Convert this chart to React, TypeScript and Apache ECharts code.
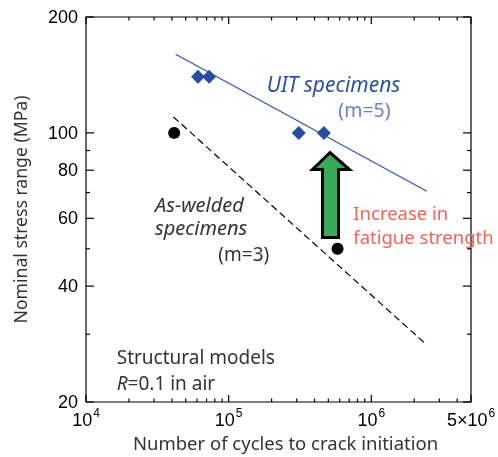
import React, { useEffect, useRef } from "react";
import * as echarts from "echarts";

// ---- data ----
const xTickMajor = [1e4, 1e5, 1e6, 5e6];
const xTickMinor = [2e4, 3e4, 4e4, 5e4, 6e4, 7e4, 8e4, 9e4, 2e5, 3e5, 4e5, 5e5, 6e5, 7e5, 8e5, 9e5, 2e6, 3e6, 4e6];
const yTickMajor = [20, 40, 60, 80, 100, 200];
const yTickMinor = [30, 50, 70, 90];

const asWeldedCycles = [4.15e4, 5.8e5];
const asWeldedStress = [100, 50];
const uitCycles = [6.1e4, 7.3e4, 3.1e5, 4.65e5];
const uitStress = [140, 140, 100, 100];
const uitFitCycles = [4.25e4, 2.45e6];
const uitFitStress = [160, 70.5];
const awFitCycles = [4.1e4, 2.38e6];
const awFitStress = [110, 28.4];

const X_MIN = 1e4;
const X_MAX = 5e6;
const Y_MIN = 20;
const Y_MAX = 200;

const zip = (a: number[], b: number[]) => a.map((v, i) => [v, b[i]]);

const TEXT = "'Noto Sans', 'Open Sans', sans-serif";
const NUM = "'Liberation Sans', Arial, sans-serif";

export default function App() {
  const ref = useRef<HTMLDivElement>(null);
  useEffect(() => {
    if (!ref.current) return;
    const chart = echarts.init(ref.current, undefined, { renderer: "svg" });

    const xTicks = [
      ...xTickMajor.map((v) => [v, Y_MIN, 7]),
      ...xTickMinor.map((v) => [v, Y_MIN, 3.5]),
    ];
    const yTicks = [
      ...yTickMajor.map((v) => [X_MIN, v, 8]),
      ...yTickMinor.map((v) => [X_MIN, v, 4]),
    ];

    const supFmt = (val: number) => {
      const e = Math.floor(Math.log10(val) + 1e-9);
      const m = Math.round(val / Math.pow(10, e));
      return m === 1 ? `{b|10}{s|${e}}` : `{b|${m}×10}{s|${e}}`;
    };

    const option: any = {
      animation: false,
      grid: {
        left: 86,
        top: 17,
        width: 385,
        height: 385,
        show: true,
        borderColor: "#000",
        borderWidth: 1.2,
        containLabel: false,
        outerBoundsMode: "none",
      },
      xAxis: {
        type: "log",
        logBase: 10,
        min: X_MIN,
        max: X_MAX,
        axisLine: { show: false },
        axisTick: { show: false },
        splitLine: { show: false },
        minorTick: { show: false },
        axisLabel: {
          customValues: xTickMajor,
          formatter: supFmt,
          margin: 5,
          rich: {
            b: { fontSize: 18, fontFamily: NUM, color: "#000", lineHeight: 20 },
            s: { fontSize: 12, fontFamily: NUM, color: "#000", padding: [0, 0, 14, 1] },
          },
        },
      },
      yAxis: {
        type: "log",
        logBase: 10,
        min: Y_MIN,
        max: Y_MAX,
        axisLine: { show: false },
        axisTick: { show: false },
        splitLine: { show: false },
        minorTick: { show: false },
        axisLabel: {
          customValues: yTickMajor,
          margin: 8,
          fontSize: 18,
          fontFamily: NUM,
          color: "#000",
        },
        name: "Nominal stress range (MPa)",
        nameLocation: "middle",
        nameGap: 57,
        nameTextStyle: { fontSize: 17.6, fontFamily: TEXT, color: "#333" },
      },
      series: [
        {
          type: "custom",
          clip: false,
          silent: true,
          data: xTicks,
          encode: { x: 0, y: 1 },
          renderItem: (params: any, api: any) => {
            const cs = params.coordSys;
            const px = api.coord([api.value(0), api.value(1)])[0];
            const len = api.value(2);
            const bot = cs.y + cs.height;
            const st = { stroke: "#000", lineWidth: 1.2 };
            return {
              type: "group",
              children: [
                { type: "line", shape: { x1: px, y1: bot, x2: px, y2: bot - len }, style: st },
                { type: "line", shape: { x1: px, y1: cs.y, x2: px, y2: cs.y + len }, style: st },
              ],
            };
          },
        },
        {
          type: "custom",
          clip: false,
          silent: true,
          data: yTicks,
          encode: { x: 0, y: 1 },
          renderItem: (params: any, api: any) => {
            const cs = params.coordSys;
            const py = api.coord([api.value(0), api.value(1)])[1];
            const len = api.value(2);
            const right = cs.x + cs.width;
            const st = { stroke: "#000", lineWidth: 1.2 };
            return {
              type: "group",
              children: [
                { type: "line", shape: { x1: cs.x, y1: py, x2: cs.x + len, y2: py }, style: st },
                { type: "line", shape: { x1: right, y1: py, x2: right - len, y2: py }, style: st },
              ],
            };
          },
        },
        {
          name: "UIT fit",
          type: "line",
          data: zip(uitFitCycles, uitFitStress),
          symbol: "none",
          lineStyle: { color: "#3352b0", width: 1.2 },
          z: 3,
        },
        {
          name: "As-welded fit",
          type: "line",
          data: zip(awFitCycles, awFitStress),
          symbol: "none",
          lineStyle: { color: "#000", width: 1.2, type: [7, 4] },
          z: 3,
        },
        {
          name: "UIT",
          type: "scatter",
          data: zip(uitCycles, uitStress),
          symbol: "diamond",
          symbolSize: 14,
          itemStyle: { color: "#2a4ca2", opacity: 1 },
          z: 5,
        },
        {
          name: "As-welded",
          type: "scatter",
          data: zip(asWeldedCycles, asWeldedStress),
          symbol: "circle",
          symbolSize: 12,
          itemStyle: { color: "#000", opacity: 1 },
          z: 5,
        },
      ],
      graphic: [
        {
          type: "polygon",
          z: 10,
          shape: {
            points: [
              [330, 152.5],
              [312.5, 169.5],
              [322.5, 169.5],
              [322.5, 237.5],
              [338.5, 237.5],
              [338.5, 169.5],
              [349.5, 169.5],
            ],
          },
          style: { fill: "#3aa95a", stroke: "#000", lineWidth: 3, lineJoin: "miter" },
        },
        {
          type: "text",
          x: 285.5,
          y: 442,
          style: {
            text: "Number of cycles to crack initiation",
            fontSize: 18.5,
            fontFamily: TEXT,
            fill: "#333",
            align: "center",
            verticalAlign: "middle",
          },
        },
        { type: "text", x: 266.7, y: 84, style: { text: "UIT specimens", fontSize: 21, fontStyle: "italic", fontFamily: TEXT, fill: "#2b4fa4", verticalAlign: "middle" } },
        { type: "text", x: 338.3, y: 109, style: { text: "(m=5)", fontSize: 19.5, fontFamily: TEXT, fill: "#6b80c6", verticalAlign: "middle" } },
        {
          type: "text",
          x: 155,
          y: 215.5,
          style: {
            text: "As-welded\nspecimens",
            fontSize: 20,
            lineHeight: 23,
            fontStyle: "italic",
            fontFamily: TEXT,
            fill: "#333",
            verticalAlign: "middle",
          },
        },
        { type: "text", x: 218.3, y: 254, style: { text: "(m=3)", fontSize: 19, fontFamily: TEXT, fill: "#333", verticalAlign: "middle" } },
        {
          type: "text",
          x: 353.3,
          y: 224.5,
          style: {
            text: "Increase in\nfatigue strength",
            fontSize: 18.5,
            lineHeight: 23.5,
            fontFamily: TEXT,
            fill: "#f26457",
            verticalAlign: "middle",
          },
        },
        { type: "text", x: 116.7, y: 357, style: { text: "Structural models", fontSize: 19, fontFamily: TEXT, fill: "#333", verticalAlign: "middle" } },
        {
          type: "text",
          x: 116.7,
          y: 383.4,
          style: {
            text: "{i|R}{n|=0.1 in air}",
            verticalAlign: "middle",
            rich: {
              i: { fontSize: 19, fontStyle: "italic", fontFamily: TEXT, fill: "#333" },
              n: { fontSize: 19, fontFamily: TEXT, fill: "#333" },
            },
          },
        },
      ],
    };
    chart.setOption(option);
    return () => chart.dispose();
  }, []);
  return <div ref={ref} style={{ position: "fixed", left: 0, top: 0, width: 498, height: 457 }} />;
}
